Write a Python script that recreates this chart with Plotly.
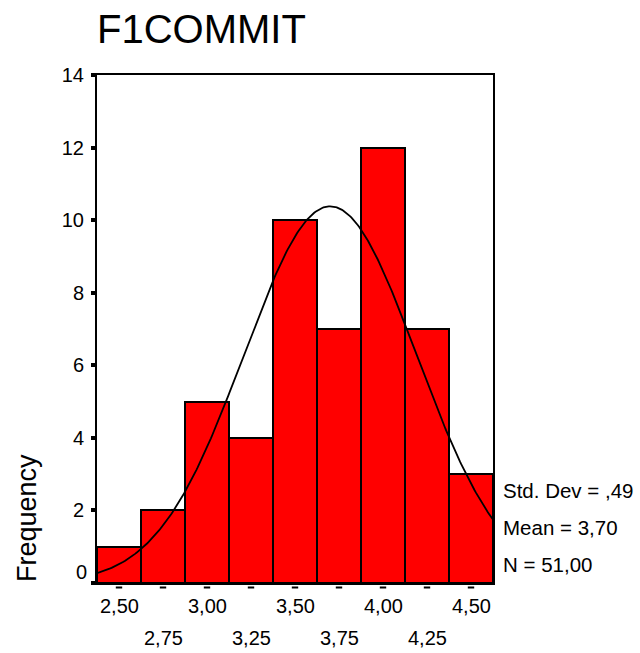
import numpy as np
import plotly.graph_objects as go

# Data
bin_centers = [2.50, 2.75, 3.00, 3.25, 3.50, 3.75, 4.00, 4.25, 4.50]
frequencies = [1, 2, 5, 4, 10, 7, 12, 7, 3]
bin_width = 0.25
row1_ticks = [2.50, 3.00, 3.50, 4.00, 4.50]
row1_labels = ["2,50", "3,00", "3,50", "4,00", "4,50"]
row2_ticks = [2.75, 3.25, 3.75, 4.25]
row2_labels = ["2,75", "3,25", "3,75", "4,25"]
y_ticks = [0, 2, 4, 6, 8, 10, 12, 14]
stat_mean = 3.70
stat_sd = 0.49
stat_n = 51
stats_lines = ["Std. Dev = ,49", "Mean = 3,70", "N = 51,00"]
title_text = "F1COMMIT"

FONT = "Liberation Sans, Arial, sans-serif"

x_lo = bin_centers[0] - bin_width / 2
x_hi = bin_centers[-1] + bin_width / 2

# Normal curve defined by the displayed mean, sd and N
xs = np.linspace(x_lo, x_hi, 300)
ys = stat_n * bin_width / (stat_sd * np.sqrt(2 * np.pi)) * np.exp(-0.5 * ((xs - stat_mean) / stat_sd) ** 2)

fig = go.Figure()
fig.add_trace(go.Bar(
    x=bin_centers, y=frequencies, width=bin_width,
    marker=dict(color="#FF0000", line=dict(color="black", width=2)),
    hoverinfo="skip",
))
fig.add_trace(go.Scatter(
    x=xs, y=ys, mode="lines", line=dict(color="black", width=1.8),
    hoverinfo="skip",
))

PLOT_H = 508.0
shapes = []
# small dash tick marks below the x axis at each bin center
dash_half = bin_width * 3.2 / 44.0
for c in bin_centers:
    shapes.append(dict(type="line", xref="x", yref="paper", x0=c - dash_half, x1=c + dash_half,
                       y0=-4.5 / PLOT_H, y1=-4.5 / PLOT_H, line=dict(color="black", width=2)))

annotations = []
for xv, lab in zip(row1_ticks, row1_labels):
    annotations.append(dict(x=xv, y=-23 / PLOT_H, xref="x", yref="paper", text=lab, showarrow=False,
                            xanchor="center", yanchor="middle", font=dict(family=FONT, size=20, color="black")))
for xv, lab in zip(row2_ticks, row2_labels):
    annotations.append(dict(x=xv, y=-55 / PLOT_H, xref="x", yref="paper", text=lab, showarrow=False,
                            xanchor="center", yanchor="middle", font=dict(family=FONT, size=20, color="black")))
for yv, s in zip([2.56, 1.52, 0.50], stats_lines):
    annotations.append(dict(x=1.02, y=yv, xref="paper", yref="y", text=s, showarrow=False,
                            xanchor="left", yanchor="middle", font=dict(family=FONT, size=20.5, color="black")))
annotations.append(dict(x=-0.177, y=1.79, xref="paper", yref="y", text="Frequency", textangle=-90,
                        showarrow=False, xanchor="center", yanchor="middle",
                        font=dict(family=FONT, size=27, color="black")))
# the bottom "0" label sits slightly above its tick in the reference
annotations.append(dict(x=-8 / 396, y=11 / PLOT_H, xref="paper", yref="paper", text=str(y_ticks[0]),
                        showarrow=False, xanchor="right", yanchor="middle",
                        font=dict(family=FONT, size=20, color="black")))

fig.update_layout(
    width=640, height=653,
    margin=dict(l=97, r=147, t=75, b=70),
    paper_bgcolor="white", plot_bgcolor="white",
    showlegend=False, bargap=0,
    title=dict(text=title_text, x=97 / 640, xanchor="left", xref="container",
               y=1 - 29 / 653, yanchor="middle", yref="container",
               font=dict(family=FONT, size=40, color="black")),
    annotations=annotations,
    shapes=shapes,
    font=dict(family=FONT, color="black"),
)
fig.update_xaxes(range=[x_lo, x_hi], showgrid=False, zeroline=False, showticklabels=False,
                 ticks="", showline=True, linecolor="black", linewidth=2, mirror=True)
fig.update_yaxes(range=[0, 14], tickvals=y_ticks, ticktext=[""] + [str(v) for v in y_ticks[1:]],
                 showgrid=False, zeroline=False, ticks="outside", ticklen=4, tickwidth=4,
                 tickcolor="black", showline=True, linecolor="black", linewidth=2, mirror=True,
                 tickfont=dict(family=FONT, size=20, color="black"), ticklabelstandoff=3)

fig.write_html("out.html")
